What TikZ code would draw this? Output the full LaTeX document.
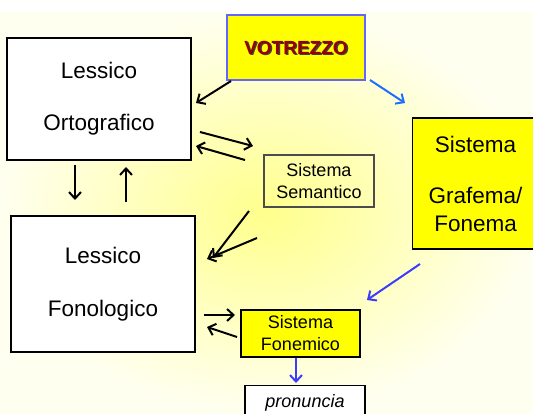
\documentclass[tikz,border=0pt]{standalone}
\usepackage{fontspec}
\setmainfont{Liberation Sans}
\usetikzlibrary{arrows.meta,positioning,calc}
\definecolor{votred}{RGB}{150,0,0}
\definecolor{boxyellow}{RGB}{255,255,0}
\definecolor{lineblue}{RGB}{30,110,255}
\definecolor{darkblue}{RGB}{60,60,255}
\definecolor{bordblue}{RGB}{100,100,255}
\tikzset{
  rectnodes/.style args={#1,#2}{
  draw=black,
  line width=1.2pt,
  fill=white,
  align=center,
  minimum width=#1pt,
  minimum height=#2pt,
  },
  yellownode/.style args={#1,#2}{
  rectnodes={#1,#2},
  fill=boxyellow,
  }
}

\begin{document}
\begin{tikzpicture}[x=1pt,y=-1pt,->,>={Straight Barb[length=6.5pt,width=12pt]},
  link/.style={line width=2pt},
  bluelink/.style={link,draw=lineblue},
  darklink/.style={link,draw=darkblue},
  big/.style={font=\fontsize{22.5}{24}\selectfont},
  small/.style={font=\fontsize{18}{22}\selectfont}]

  \clip (0,0) rectangle (533,413);
  \fill[white] (0,0) rectangle (533,413);
  \shade[inner color=yellow!45,outer color=yellow!6] (0,12) rectangle (533,413);

  \node [rectnodes={184,122},big] (orto) at (99,99) {Lessico\\[28pt]Ortografico};
  \node [rectnodes={184,136},big] (fono) at (103,284) {Lessico\\[29pt]Fonologico};
  \node [yellownode={138,65},draw=bordblue] (vot) at (296,47.5) {};
  \node [font=\bfseries\fontsize{19}{20}\selectfont,text=black!75] (votshadow) at ($(vot)+(1.3,1.3)$) {VOTREZZO};
  \node [font=\bfseries\fontsize{19}{20}\selectfont,text=votred] (vottext) at (vot) {VOTREZZO};
  \node [yellownode={126,131},big,anchor=west] (graf) at (412,183.5) {Sistema\\[27pt]Grafema/\\[4pt]Fonema};
  \node [rectnodes={110,52},small,fill=none,draw=black!70] (sem) at (319,181) {Sistema\\Semantico};
  \node [yellownode={119,47},small] (fonem) at (300.5,333.5) {Sistema\\Fonemico};
  \node [rectnodes={120,34},small,anchor=north,font=\itshape\fontsize{18}{22}\selectfont] (pron) at (305,385) {pronuncia};

  % arrow ends
  \coordinate (v1) at (231,81);  \coordinate (o1) at (196,103);
  \coordinate (v2) at (370,80);  \coordinate (g1) at (405,103);
  \coordinate (o2) at (200,132); \coordinate (s1) at (253,146);
  \coordinate (s2) at (245,160); \coordinate (o3) at (196,146);
  \coordinate (o4) at (75,165);  \coordinate (f1) at (75,200);
  \coordinate (f2) at (126,202); \coordinate (o5) at (126,167);
  \coordinate (s3) at (249,211); \coordinate (f3) at (213,258);
  \coordinate (s4) at (257,238); \coordinate (f4) at (207,259);
  \coordinate (g2) at (420,264); \coordinate (n1) at (367,300);
  \coordinate (f5) at (204,315); \coordinate (n2) at (235,315);
  \coordinate (n3) at (237,337); \coordinate (f6) at (207,327);
  \coordinate (n4) at (296,358); \coordinate (p1) at (296,383);

  \draw [link] (v1) -- (o1);
  \draw [bluelink] (v2) -- (g1);
  \draw [link] (o2) -- (s1);
  \draw [link] (s2) -- (o3);
  \draw [link] (o4) -- (f1);
  \draw [link] (f2) -- (o5);
  \draw [link] (s3) -- (f3);
  \draw [link] (s4) -- (f4);
  \draw [darklink] (g2) -- (n1);
  \draw [link] (f5) -- (n2);
  \draw [link] (n3) -- (f6);
  \draw [darklink] (n4) -- (p1);

\end{tikzpicture}
\end{document}
